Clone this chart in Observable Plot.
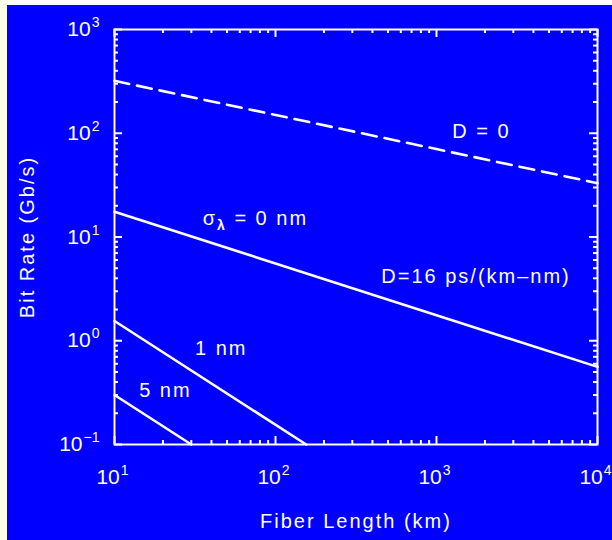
<!DOCTYPE html>
<html>
<head>
<meta charset="utf-8">
<script src="https://cdn.jsdelivr.net/npm/d3@7"></script>
<script src="https://cdn.jsdelivr.net/npm/@observablehq/plot@0.6"></script>
<style>
  html, body { margin: 0; padding: 0; background: #ffffff; width: 612px; height: 540px; overflow: hidden; }
  #strip { position: absolute; left: 0; top: 0; width: 7px; height: 540px; background: #fffde6; }
  #chart { position: absolute; left: 7px; top: 5px; }
  #chart svg { overflow: visible; }
</style>
</head>
<body>
<div id="strip"></div>
<div id="chart"></div>
<script>
// ---- data ----
const dZeroL = [10, 10000];          // D = 0 (dashed)
const dZeroB = [320, 33];
const sigma0L = [10, 10000];         // sigma = 0 nm, D = 16 ps/(km-nm)
const sigma0B = [17.5, 0.56];
const sigma1L = [10, 155];           // 1 nm
const sigma1B = [1.55, 0.1];
const sigma5L = [10, 30];            // 5 nm
const sigma5B = [0.3, 0.1];

const labelTexts = ["D = 0", "σλ = 0 nm", "D=16 ps/(km–nm)", "1 nm", "5 nm"];
const labelL = [1900, 75, 1760, 46, 20.7];
const labelB = [104, 15.1, 4.17, 0.845, 0.333];

const xTicks = [10, 100, 1000, 10000];
const xTickExp = ["1", "2", "3", "4"];
const yTicks = [0.1, 1, 10, 100, 1000];
const yTickExp = ["−1", "0", "1", "2", "3"];
const xMinor = [20,30,40,50,60,70,80,90,200,300,400,500,600,700,800,900,2000,3000,4000,5000,6000,7000,8000,9000];
const yMinor = [0.2,0.3,0.4,0.5,0.6,0.7,0.8,0.9,2,3,4,5,6,7,8,9,20,30,40,50,60,70,80,90,200,300,400,500,600,700,800,900];

const xTitle = "Fiber Length (km)";
const yTitle = "Bit Rate (Gb/s)";

const toRows = (L, B, name) => L.map((l, i) => ({L: l, B: B[i], name}));
const solid = [
  ...toRows(sigma0L, sigma0B, "s0"),
  ...toRows(sigma1L, sigma1B, "s1"),
  ...toRows(sigma5L, sigma5B, "s5")
];
const dashed = toRows(dZeroL, dZeroB, "d0");
const labels = labelTexts.map((t, i) => ({t, L: labelL[i], B: labelB[i]}));

const W = 605, H = 535;
const mT = 24, mB = 96, mL = 107, mR = 15;
const innerW = W - mL - mR, innerH = H - mT - mB;
const minorLen = 4, majorLen = 8;
const font = "'Liberation Sans', Arial, sans-serif";

const chart = Plot.plot({
  width: W, height: H,
  marginTop: mT, marginBottom: mB, marginLeft: mL, marginRight: mR,
  style: {background: "#0000ff", color: "white", fontFamily: font, fontSize: "20px", letterSpacing: "2px"},
  x: {type: "log", domain: [10, 10000], axis: null},
  y: {type: "log", domain: [0.1, 1000], axis: null},
  marks: [
    // ticks (inward on all four sides)
    Plot.tickX(xMinor, {x: d => d, stroke: "white", strokeWidth: 2, insetTop: innerH - minorLen}),
    Plot.tickX(xMinor, {x: d => d, stroke: "white", strokeWidth: 2, insetBottom: innerH - minorLen}),
    Plot.tickX(xTicks, {x: d => d, stroke: "white", strokeWidth: 2, insetTop: innerH - majorLen}),
    Plot.tickX(xTicks, {x: d => d, stroke: "white", strokeWidth: 2, insetBottom: innerH - majorLen}),
    Plot.tickY(yMinor, {y: d => d, stroke: "white", strokeWidth: 2, insetRight: innerW - minorLen}),
    Plot.tickY(yMinor, {y: d => d, stroke: "white", strokeWidth: 2, insetLeft: innerW - minorLen}),
    Plot.tickY(yTicks, {y: d => d, stroke: "white", strokeWidth: 2, insetRight: innerW - majorLen}),
    Plot.tickY(yTicks, {y: d => d, stroke: "white", strokeWidth: 2, insetLeft: innerW - majorLen}),
    Plot.frame({stroke: "white", strokeWidth: 2}),
    // curves
    Plot.line(solid, {x: "L", y: "B", z: "name", stroke: "white", strokeWidth: 2.6}),
    Plot.line(dashed, {x: "L", y: "B", stroke: "white", strokeWidth: 2.6, strokeDasharray: "15,8"}),
    // curve labels
    Plot.text(labels, {x: "L", y: "B", text: "t", fill: "white", fontSize: 20}),
    // tick labels
    Plot.text(xTicks, {x: d => d, frameAnchor: "bottom", lineAnchor: "middle", textAnchor: "middle", dy: 33, dx: -2, text: (d, i) => "10^" + xTickExp[i], fill: "white", fontSize: 21}),
    Plot.text(yTicks, {y: d => d, frameAnchor: "left", lineAnchor: "middle", dx: -15, textAnchor: "end", text: (d, i) => "10^" + yTickExp[i], fill: "white", fontSize: 21}),
    // axis titles
    Plot.text([xTitle], {frameAnchor: "bottom", lineAnchor: "middle", textAnchor: "middle", dy: 77, text: d => d, fill: "white", fontSize: 20}),
    Plot.text([yTitle], {frameAnchor: "left", lineAnchor: "middle", textAnchor: "middle", dx: -87, rotate: -90, text: d => d, fill: "white", fontSize: 20})
  ]
});

// superscripts / subscripts as real tspans
d3.select(chart).selectAll("text").each(function() {
  const el = d3.select(this);
  const s = this.textContent;
  const m = s.match(/^10\^(.+)$/);
  if (m) {
    el.text("10").attr("letter-spacing", "0px");
    el.append("tspan").attr("dy", -9).attr("dx", 1).attr("font-size", 14).text(m[1]);
  } else if (s === "σλ = 0 nm") {
    el.text("");
    el.append("tspan").text("σ");
    el.append("tspan").attr("dy", 5).attr("font-size", 14).attr("font-weight", "bold").text("λ");
    el.append("tspan").attr("dy", -5).text(" = 0 nm");
  }
});

document.getElementById("chart").appendChild(chart);
</script>
</body>
</html>
